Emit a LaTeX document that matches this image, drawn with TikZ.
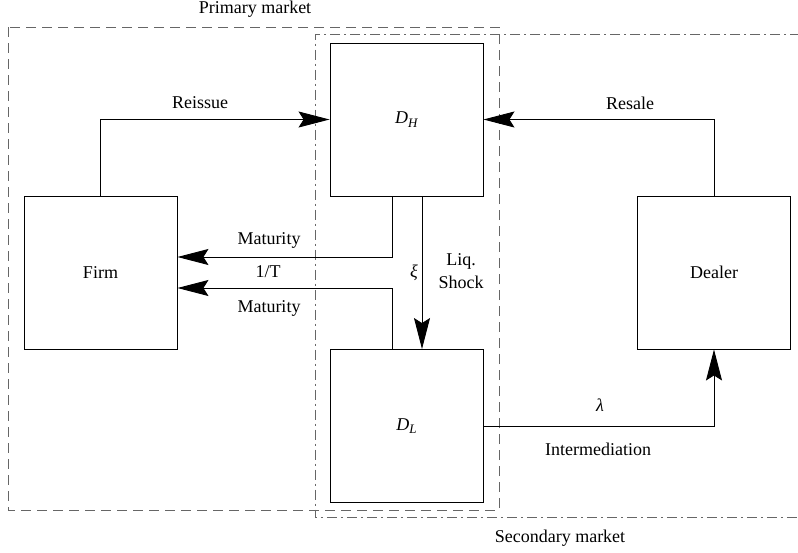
\documentclass[tikz,border=0pt]{standalone}
\usepackage{fontspec}
\setmainfont{Liberation Serif}
\usetikzlibrary{arrows.meta,calc}
\newcommand{\mysub}[2]{\textit{#1}\raisebox{-3.5pt}{\fontsize{13}{13}\selectfont\textit{#2}}}
\begin{document}
\begin{tikzpicture}[x=1pt,y=-1pt,
  font=\fontsize{18}{23}\selectfont,
  box/.style={draw=black, line width=0.9pt, minimum width=153pt, minimum height=153pt, inner sep=0pt},
  conn/.style={draw=black, line width=0.9pt},
  arr/.style={conn, -{Stealth[length=31pt,width=16pt,inset=5pt]}},
  lbl/.style={inner sep=0pt},
  primframe/.style={draw=black!60, line width=0.9pt, dash pattern=on 10pt off 6pt},
  secframe/.style={draw=black!60, line width=0.9pt, dash pattern=on 10pt off 4pt on 2pt off 4pt}]
\useasboundingbox (0,0) rectangle (798,552);

% frames
\draw[primframe] (8,27) rectangle (499,510);
\draw[secframe] (800,34.5) -- (315,34.5) -- (315,517.7) -- (800,517.7);
\node[lbl] (prim) at (255,9) {Primary market};
\node[lbl] (sec) at (560,538) {Secondary market};

% boxes
\node[box] (firm) at (100.5,272.5) {Firm};
\node[box] (dh) at (406.5,119.5) {\mysub{D}{H}};
\node[box] (dl) at (406.5,426) {\mysub{D}{L}};
\node[box] (dealer) at (714,272.5) {Dealer};

% connectors
\draw[arr] (firm.north) |- (dh.west);
\draw[arr] (dealer.north) |- (dh.east);
\draw[arr] ($(dh.south)+(-14.5,0)$) |- ($(firm.east)+(0,-15.5)$);
\draw[arr] ($(dl.north)+(-14.5,0)$) |- ($(firm.east)+(0,15.5)$);
\draw[arr] ($(dh.south)+(15.5,0)$) -- ($(dl.north)+(15.5,0)$);
\draw[arr] (dl.east) -| (dealer.south);

% labels
\node[lbl] (reissue) at (200,103) {Reissue};
\node[lbl] (resale) at (630,103) {Resale};
\node[lbl] (mat1) at (269,240) {Maturity};
\node[lbl] (invt) at (268,272) {1/T};
\node[lbl] (mat2) at (269,308) {Maturity};
\node[lbl] (xi) at (414,273) {\textit{ξ}};
\node[lbl, align=center] (liq) at (461,271) {Liq.\\Shock};
\node[lbl] (lam) at (600,405) {\textit{λ}};
\node[lbl] (inter) at (598,449) {Intermediation};
\end{tikzpicture}
\end{document}
